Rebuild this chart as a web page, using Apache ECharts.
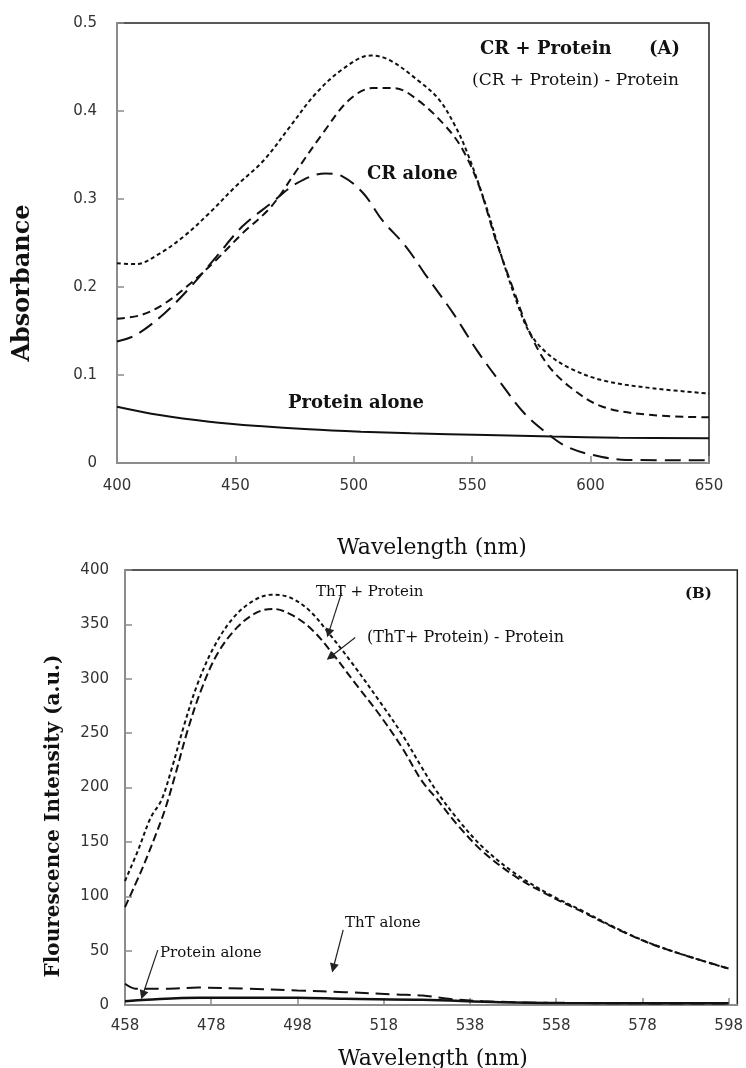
<!DOCTYPE html>
<html>
<head>
<meta charset="utf-8">
<title>Absorbance / Fluorescence</title>
<script src="https://cdn.jsdelivr.net/npm/echarts@6.0.0/dist/echarts.min.js"></script>
<style>
    html, body { margin: 0; padding: 0; background: #fff; }
    #main { width: 746px; height: 1068px; }
</style>
</head>
<body>
<div id="main"></div>
<script>
    'use strict';

    // (A) absorbance, [wavelength nm, absorbance]
    var crProteinA = [[400, 0.227], [408, 0.226], [418, 0.238], [428, 0.257], [439, 0.284], [450, 0.314], [462, 0.344],
        [473, 0.382], [484, 0.420], [496, 0.449], [507, 0.463], [515, 0.458], [527, 0.435], [536, 0.413], [543, 0.382],
        [548, 0.352], [555, 0.299], [562, 0.238], [569.5, 0.178], [574.5, 0.147], [581.5, 0.125], [591, 0.108],
        [605, 0.094], [626, 0.085], [650, 0.079]];
    var crDiffA = [[400, 0.164], [410, 0.168], [420, 0.181], [431, 0.204], [442, 0.231], [453, 0.261], [465, 0.291],
        [476, 0.333], [487, 0.375], [498, 0.4125], [508, 0.426], [517, 0.426], [527, 0.4125], [539, 0.382], [546, 0.356],
        [553, 0.314], [560, 0.253], [567, 0.200], [574, 0.150], [581.5, 0.113], [591, 0.087], [605, 0.064],
        [626, 0.0545], [650, 0.052]];
    var crAloneA = [[400, 0.138], [408, 0.1455], [420, 0.170], [431, 0.200], [442, 0.2345], [453, 0.269], [465, 0.295],
        [476, 0.318], [488, 0.329], [495, 0.326], [504, 0.3065], [512, 0.276], [522, 0.246], [530, 0.215], [542, 0.170],
        [552, 0.128], [562, 0.091], [572, 0.0565], [581.5, 0.034], [590, 0.0185], [601, 0.009], [615, 0.0035],
        [650, 0.003]];
    var proteinA = [[400, 0.064], [418, 0.0545], [439, 0.047], [460, 0.042], [481, 0.0383], [503, 0.0356],
        [524, 0.0337], [556, 0.0318], [584, 0.030], [612, 0.0288], [650, 0.028]];

    // (B) fluorescence, [wavelength nm, intensity a.u.]
    var thtProteinB = [[458, 114], [461, 142], [464, 172.6], [466.4, 188], [468.7, 215.5], [471.8, 258.5], [474.8, 295],
        [478.6, 329], [483.2, 356.4], [487.8, 371.8], [492, 377.3], [496.2, 374.8], [500.8, 362.6], [505.4, 341.2],
        [510.8, 313.6], [516.9, 280], [522.2, 249.3], [526.8, 218.6], [530.2, 197], [534.8, 172.6], [541, 145],
        [548.6, 120.6], [556.2, 102.2], [563.9, 86.9], [571.5, 71.5], [579.2, 57.7], [586.8, 47.1], [598, 33.3]];
    var thtDiffB = [[458, 90], [461.8, 123.6], [464.9, 154.2], [467.2, 178.8], [469.5, 209.4], [472.5, 252.3],
        [475.6, 289], [479.4, 322.8], [484, 347.2], [488.6, 361], [492.4, 364.2], [497, 358], [501.6, 344.2],
        [506.2, 322.8], [511.5, 295.2], [516.9, 267.6], [522.2, 237], [526.8, 206.3], [530.2, 190], [534.8, 167],
        [541, 141], [548.6, 118], [556.2, 101], [563.9, 86], [571.5, 71], [579.2, 57.5], [586.8, 47], [598, 33.5]];
    var thtAloneB = [[458, 19.5], [460.5, 15], [467, 14.9], [475, 16], [486, 15], [498, 13.3], [509, 11.8],
        [521, 9.7], [527, 8.7], [533, 5.7], [541, 3.5], [556, 2], [598, 1.3]];
    var proteinB = [[458, 3.5], [463, 4.8], [475, 6.6], [486, 6.6], [498, 6.6], [509, 5.7], [527, 4.8], [545, 2.5],
        [560, 1.8], [598, 1.5]];

    var ticksB = [458, 478, 498, 518, 538, 558, 578, 598];

    // annotation arrows in (B): [from, to] in data coordinates
    var arrowsB = [
        [[508.2, 378.7], [505.2, 342]],
        [[511.4, 338], [505.6, 320]],
        [[508.6, 69], [506.3, 34]],
        [[465.6, 50.5], [462.1, 9.2]]
    ];

    var axisGray = '#8c8c8c';
    var tickFont = {fontFamily: 'DejaVu Sans', fontSize: 15, color: '#333'};

    function valueAxis(gridIndex, opts, labelMargin) {
        var axis = {
            gridIndex: gridIndex,
            type: 'value',
            axisLine: {show: true, onZero: false, lineStyle: {color: axisGray, width: 2}},
            axisTick: {show: true, inside: true, length: 7, lineStyle: {color: axisGray, width: 1.5}},
            axisLabel: {margin: labelMargin, fontFamily: tickFont.fontFamily, fontSize: tickFont.fontSize,
                color: tickFont.color},
            splitLine: {show: false}
        };
        for (var k in opts) {
            axis[k] = opts[k];
        }
        return axis;
    }

    function curve(name, data, xi, dash, width) {
        return {
            name: name,
            type: 'line',
            xAxisIndex: xi,
            yAxisIndex: xi,
            data: data,
            smooth: 0.35,
            showSymbol: false,
            symbol: 'none',
            lineStyle: {color: '#111', width: width || 2, type: dash || 'solid'},
            silent: true
        };
    }

    var arrowLines = [];
    for (var i = 0; i < arrowsB.length; i++) {
        arrowLines.push([{coord: arrowsB[i][0]}, {coord: arrowsB[i][1]}]);
    }

    function label(text, x, y, font, align) {
        return {
            type: 'text', x: x, y: y, silent: true,
            style: {text: text, font: font, fill: '#111', align: align || 'left', verticalAlign: 'middle',
                textAlign: align || 'left', textVerticalAlign: 'middle'}
        };
    }

    function vLabel(text, x, y, font) {
        var el = label(text, x, y, font, 'center');
        el.rotation = Math.PI / 2;
        return el;
    }

    var serif = '"DejaVu Serif"';
    var chart = echarts.init(document.getElementById('main'), null, {renderer: 'canvas'});
    chart.setOption({
        animation: false,
        backgroundColor: '#fff',
        grid: [
            {left: 117, top: 23, width: 592, height: 440, show: true, borderColor: '#222', borderWidth: 1.5,
                containLabel: false},
            {left: 125, top: 570, width: 616, height: 435, show: true, borderColor: '#222', borderWidth: 1.5,
                containLabel: false}
        ],
        xAxis: [
            valueAxis(0, {min: 400, max: 650, interval: 50}, 16),
            valueAxis(1, {min: 458, max: 600}, 14)
        ],
        yAxis: [
            valueAxis(0, {min: 0, max: 0.5, interval: 0.1}, 20),
            valueAxis(1, {min: 0, max: 400, interval: 50}, 16)
        ],
        series: [
            curve('CR + Protein', crProteinA, 0, [4, 3]),
            curve('(CR + Protein) - Protein', crDiffA, 0, [8, 5]),
            curve('CR alone', crAloneA, 0, [16, 8]),
            curve('Protein alone', proteinA, 0, 'solid'),
            curve('ThT + Protein', thtProteinB, 1, [4, 3]),
            curve('(ThT+ Protein) - Protein', thtDiffB, 1, [8, 4]),
            curve('ThT alone', thtAloneB, 1, [14, 7]),
            (function () {
                var s = curve('Protein alone', proteinB, 1, 'solid', 2.5);
                s.markLine = {
                    silent: true,
                    symbol: ['none', 'triangle'],
                    symbolSize: 9,
                    label: {show: false},
                    lineStyle: {color: '#222', width: 1.2, type: 'solid'},
                    data: arrowLines
                };
                return s;
            })()
        ],
        graphic: [
            // axis titles
            vLabel('Absorbance', 23, 283, 'bold 24px ' + serif),
            label('Wavelength (nm)', 432, 548, '22px ' + serif, 'center'),
            vLabel('Flourescence Intensity (a.u.)', 54, 816, 'bold 20px ' + serif),
            label('Wavelength (nm)', 433, 1059, '22px ' + serif, 'center'),
            // (A) annotations
            label('CR + Protein', 480, 49, 'bold 18px ' + serif),
            label('(A)', 649, 49, 'bold 18px ' + serif),
            label('(CR + Protein) - Protein', 472, 81, '17px ' + serif),
            label('CR alone', 367, 174, 'bold 18px ' + serif),
            label('Protein alone', 288, 403, 'bold 18px ' + serif),
            // (B) annotations
            label('ThT + Protein', 316, 592, '15px ' + serif),
            label('(B)', 685, 594, 'bold 15px ' + serif),
            label('(ThT+ Protein) - Protein', 367, 638, '16px ' + serif),
            label('ThT alone', 345, 923, '15px ' + serif),
            label('Protein alone', 160, 953, '15px ' + serif)
        ]
    });

    // x ticks of (B) start at 458, not at a multiple of 20
    chart.setOption({
        xAxis: [{}, {axisLabel: {customValues: ticksB, showMaxLabel: true}, axisTick: {customValues: ticksB}}]
    });
</script>
</body>
</html>
